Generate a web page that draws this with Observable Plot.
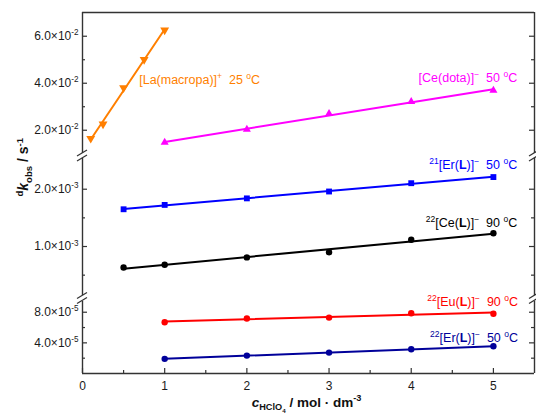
<!DOCTYPE html>
<html><head><meta charset="utf-8">
<script src="https://cdn.jsdelivr.net/npm/d3@7"></script>
<script src="https://cdn.jsdelivr.net/npm/@observablehq/plot@0.6"></script>
<style>
body{margin:0;background:#fff}
#chart{position:relative;width:536px;height:419px;font-family:"Liberation Sans",Arial,sans-serif}
#chart svg{position:absolute;left:0;top:0}
</style></head><body><div id="chart"></div>
<script>
// ---- data ----
const concLa = [0.1, 0.25, 0.5, 0.75, 1.0];
const kLa = [0.0165, 0.0226, 0.0380, 0.0501, 0.0626];
const conc5 = [1, 2, 3, 4, 5];
const kCeDota = [0.0148, 0.0203, 0.0271, 0.0322, 0.0369];
const conc6 = [0.5, 1, 2, 3, 4, 5];
const kEr21 = [1.650e-3, 1.726e-3, 1.840e-3, 1.960e-3, 2.105e-3, 2.212e-3];
const kCe22 = [0.634e-3, 0.681e-3, 0.810e-3, 0.900e-3, 1.117e-3, 1.232e-3];
const kEu22 = [6.69e-5, 7.18e-5, 7.30e-5, 7.87e-5, 7.80e-5];
const kEr22 = [1.91e-5, 2.34e-5, 2.73e-5, 3.16e-5, 3.56e-5];

const seriesNames = ["La-macropa", "Ce-dota", "Er21", "Ce22", "Eu22", "Er22"];
const seriesLabels = [
  "[La(macropa)]^{+}\u00a0\u00a025 ^{o}C",
  "[Ce(dota)]^{\u2212}\u00a0\u00a050 ^{o}C",
  "^{21}[Er(!{L})]^{\u2212}\u00a0\u00a050 ^{o}C",
  "^{22}[Ce(!{L})]^{\u2212}\u00a0\u00a090 ^{o}C",
  "^{22}[Eu(!{L})]^{\u2212}\u00a0\u00a090 ^{o}C",
  "^{22}[Er(!{L})]^{\u2212}\u00a0\u00a050 ^{o}C"
];
const xMajorTicks = [0, 1, 2, 3, 4, 5];
const xMinorTicks = [0.5, 1.5, 2.5, 3.5, 4.5];
const yTopMajor = [0.02, 0.04, 0.06], yTopMinor = [0.03, 0.05];
const yMidMajor = [1e-3, 2e-3], yMidMinor = [0.5e-3, 1.5e-3];
const yBotMajor = [4e-5, 8e-5], yBotMinor = [2e-5, 6e-5];
const xTitle = "~{c}_{HClO_{4}} / mol \u00b7 dm^{-3}";
const yTitle = "^{d}~{k}_{obs} / s^{-1}";

// ---- build ----
const rows = (name, xs, ys) => xs.map((x, i) => ({name, x, y: ys[i]}));
const data = {
  "La-macropa": rows("La-macropa", concLa, kLa),
  "Ce-dota": rows("Ce-dota", conc5, kCeDota),
  "Er21": rows("Er21", conc6, kEr21),
  "Ce22": rows("Ce22", conc6, kCe22),
  "Eu22": rows("Eu22", conc5, kEu22),
  "Er22": rows("Er22", conc5, kEr22)
};
const triangleDown = {
  draw(ctx, size) {
    const y = -Math.sqrt(size / (Math.sqrt(3) * 3));
    ctx.moveTo(0, -y * 2);
    ctx.lineTo(-Math.sqrt(3) * y, y);
    ctx.lineTo(Math.sqrt(3) * y, y);
    ctx.closePath();
  }
};
const style = {
  "La-macropa": {color: "#ff7f00", symbol: triangleDown, r: 3.3, panel: 0, lx: 0.69, ly: 0.0413, anchor: "start"},
  "Ce-dota": {color: "#ff00ff", symbol: "triangle", r: 3.0, panel: 0, lx: 5.29, ly: 0.0421, anchor: "end"},
  "Er21": {color: "#0000ff", symbol: "square", r: 3.3, panel: 1, lx: 5.29, ly: 2.414e-3, anchor: "end"},
  "Ce22": {color: "#000000", symbol: "circle", r: 3.2, panel: 1, lx: 5.29, ly: 1.419e-3, anchor: "end"},
  "Eu22": {color: "#ff0000", symbol: "circle", r: 3.2, panel: 2, lx: 5.30, ly: 9.27e-5, anchor: "end"},
  "Er22": {color: "#00009a", symbol: "circle", r: 3.2, panel: 2, lx: 5.30, ly: 4.69e-5, anchor: "end"}
};

const W = 536, H = 419, ML = 82, MR = 2, FW = W - ML - MR;
const axisColor = "#333";
const panels = [
  {mt: 12, mb: H - 153, domain: [0.0101, 0.0701], major: yTopMajor, minor: yTopMinor, exp: -2, top: true},
  {mt: 158, mb: H - 295, domain: [0.145e-3, 2.536e-3], major: yMidMajor, minor: yMidMinor, exp: -3},
  {mt: 301, mb: H - 373, domain: [0, 9.4e-5], major: yBotMajor, minor: yBotMinor, exp: -5, bottom: true}
];

const chart = document.getElementById("chart");
const svgs = panels.map((p, pi) => {
  const names = seriesNames.filter(n => style[n].panel === pi);
  const FH = H - p.mt - p.mb;
  const marks = [
    Plot.ruleX([0, 5.5], {stroke: axisColor, strokeWidth: 1.4}),
    Plot.tickY(p.major, {y: d => d, insetRight: FW - 5, stroke: axisColor, strokeWidth: 1.2}),
    Plot.tickY(p.minor, {y: d => d, insetRight: FW - 3, stroke: axisColor, strokeWidth: 1.2}),
    Plot.tickY(p.major, {y: d => d, insetLeft: FW - 5, stroke: axisColor, strokeWidth: 1.2}),
    Plot.tickY(p.minor, {y: d => d, insetLeft: FW - 3, stroke: axisColor, strokeWidth: 1.2}),
    Plot.axisY({ticks: p.major, tickSize: 0, tickPadding: 4, fontSize: 12, label: null,
      tickFormat: d => (d / Math.pow(10, p.exp)).toFixed(1) + "\u00d710^{" + p.exp + "}"})
  ];
  if (p.top) marks.push(Plot.ruleY([p.domain[1]], {stroke: axisColor, strokeWidth: 1.4}));
  if (p.bottom) {
    marks.push(
      Plot.ruleY([p.domain[0]], {stroke: axisColor, strokeWidth: 1.4}),
      Plot.tickX(xMajorTicks, {x: d => d, insetTop: FH - 5, stroke: axisColor, strokeWidth: 1.2}),
      Plot.tickX(xMinorTicks, {x: d => d, insetTop: FH - 3, stroke: axisColor, strokeWidth: 1.2}),
      Plot.axisX({ticks: xMajorTicks, tickSize: 0, tickPadding: 8, fontSize: 12, label: null, tickFormat: d => String(d)}),
      Plot.text([xTitle], {frameAnchor: "bottom", dx: -2, dy: 33, fontSize: 13.5, fontWeight: "bold", fill: "#111"})
    );
  }
  if (pi === 1) {
    marks.push(Plot.text([yTitle], {frameAnchor: "top-left", dx: -64, dy: 38, rotate: -90, fontSize: 14, fontWeight: "bold", fill: "#111"}));
  }
  for (const n of names) {
    const s = style[n];
    marks.push(
      Plot.linearRegressionY(data[n], {x: "x", y: "y", stroke: s.color, strokeWidth: 2, ci: 0}),
      Plot.dot(data[n], {x: "x", y: "y", fill: s.color, stroke: "none", symbol: () => s.symbol, r: s.r}),
      Plot.text([seriesLabels[seriesNames.indexOf(n)]], {x: () => s.lx, y: () => s.ly, textAnchor: s.anchor, fill: s.color, fontSize: 12.5})
    );
  }
  const svg = Plot.plot({
    width: W, height: H,
    marginLeft: ML, marginRight: MR, marginTop: p.mt, marginBottom: p.mb,
    x: {domain: [0, 5.5], axis: null},
    y: {domain: p.domain, axis: null},
    symbol: {type: "identity"},
    style: {background: "transparent", overflow: "visible", fontFamily: '"Liberation Sans", Arial, sans-serif', fontSize: "12px", color: "#1a1a1a"},
    marks
  });
  chart.appendChild(svg);
  return svg;
});

// ---- rich text (super/subscripts, bold, italic) ----
function parseRich(str) {
  const out = [];
  (function rec(s, st) {
    let buf = "";
    const flush = () => { if (buf) { out.push({text: buf, ...st}); buf = ""; } };
    for (let i = 0; i < s.length; i++) {
      const c = s[i];
      if ("^_!~".includes(c) && s[i + 1] === "{") {
        let depth = 0, j = i + 1;
        for (; j < s.length; j++) {
          if (s[j] === "{") depth++;
          else if (s[j] === "}") { depth--; if (!depth) break; }
        }
        flush();
        const ns = {...st};
        if (c === "^") { ns.shift = st.shift - 0.4 * st.scale; ns.scale = st.scale * 0.68; }
        if (c === "_") { ns.shift = st.shift + 0.28 * st.scale; ns.scale = st.scale * 0.68; }
        if (c === "!") ns.bold = true;
        if (c === "~") ns.italic = true;
        rec(s.slice(i + 2, j), ns);
        i = j;
      } else buf += c;
    }
    flush();
  })(str, {shift: 0, scale: 1, bold: false, italic: false});
  return out;
}
for (const svg of svgs) {
  svg.querySelectorAll("text").forEach(el => {
    const t = el.textContent;
    if (!/[\^_!~]\{/.test(t)) return;
    const fs = parseFloat(getComputedStyle(el).fontSize) || 12;
    let base = 0;
    const dyAttr = el.getAttribute("dy");
    if (dyAttr) {
      base = dyAttr.endsWith("em") ? parseFloat(dyAttr) * fs : parseFloat(dyAttr);
      el.removeAttribute("dy");
    }
    el.textContent = "";
    let cur = 0, first = true;
    for (const seg of parseRich(t)) {
      const ts = document.createElementNS("http://www.w3.org/2000/svg", "tspan");
      const dy = (seg.shift - cur) * fs + (first ? base : 0);
      if (dy) ts.setAttribute("dy", dy.toFixed(2));
      if (seg.scale !== 1) ts.setAttribute("font-size", (fs * seg.scale).toFixed(2));
      if (seg.bold) ts.setAttribute("font-weight", "bold");
      if (seg.italic) ts.setAttribute("font-style", "italic");
      ts.textContent = seg.text;
      el.appendChild(ts);
      cur = seg.shift; first = false;
    }
  });
}

// ---- axis break marks ----
const yA = svgs[0].scale("y"), yB = svgs[1].scale("y"), yC = svgs[2].scale("y");
const xS = svgs[0].scale("x");
const breaks = [
  (yA.apply(panels[0].domain[0]) + yB.apply(panels[1].domain[1])) / 2,
  (yB.apply(panels[1].domain[0]) + yC.apply(panels[2].domain[1])) / 2
];
const g = d3.select(svgs[2]).append("g").attr("stroke", axisColor).attr("stroke-width", 1.2);
for (const cy of breaks) {
  for (const cx of [xS.apply(0), xS.apply(5.5)]) {
    for (const off of [-2.5, 2.5]) {
      g.append("line").attr("x1", cx - 5).attr("y1", cy + off + 3).attr("x2", cx + 5).attr("y2", cy + off - 3);
    }
  }
}
</script></body></html>
